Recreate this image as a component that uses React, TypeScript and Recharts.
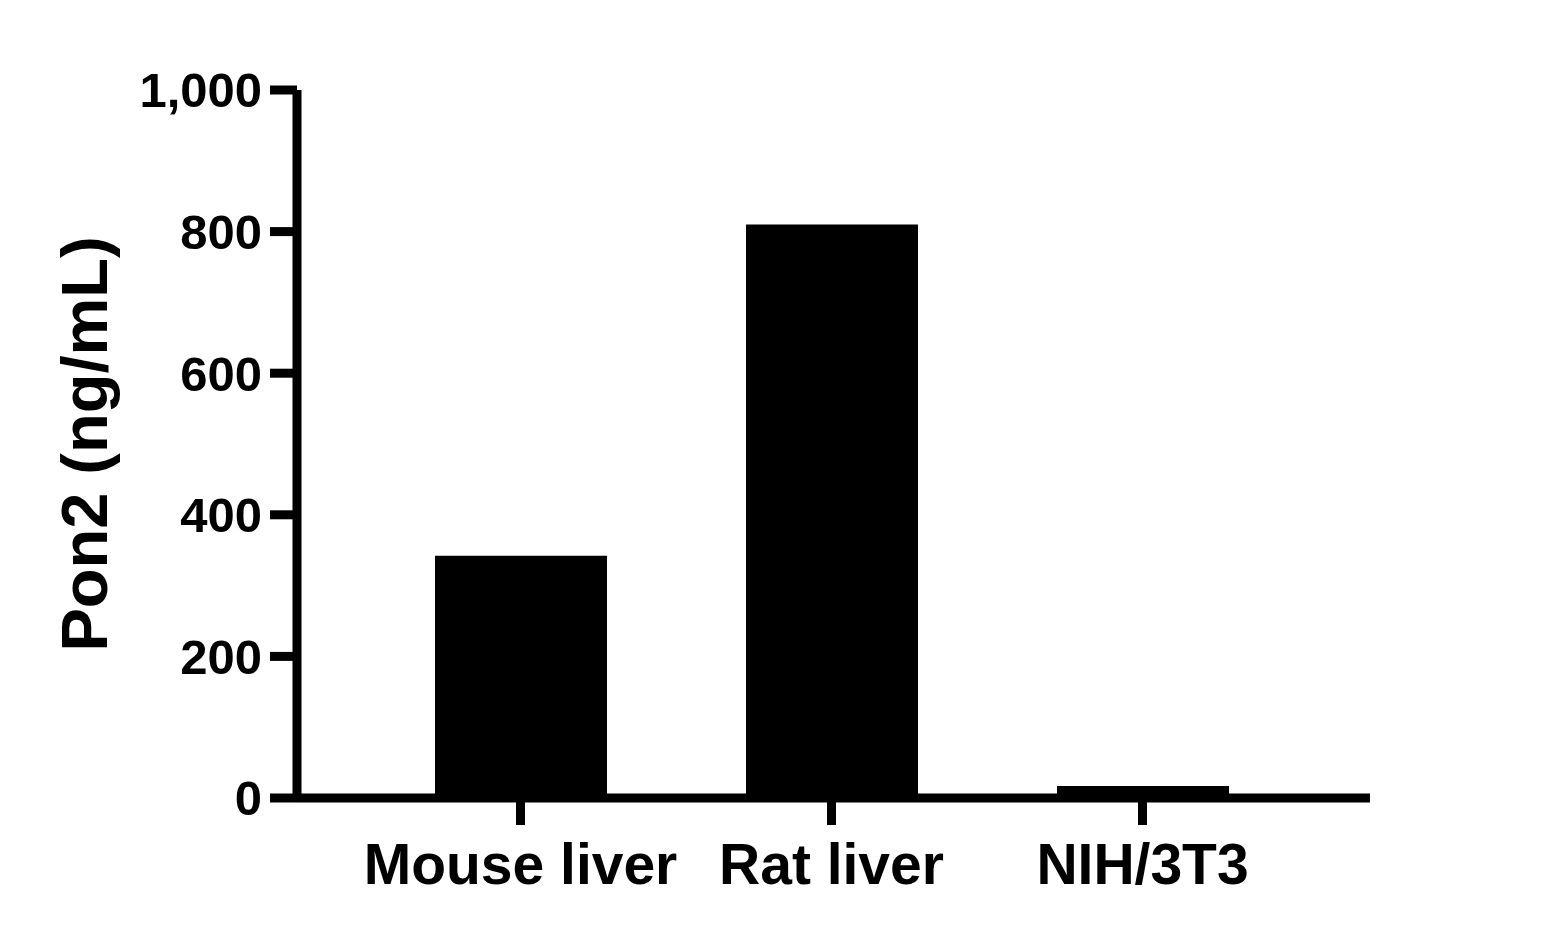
import { BarChart, Bar, XAxis, YAxis } from 'recharts'

const categories = ['Mouse liver', 'Rat liver', 'NIH/3T3']
const pon2Values = [342, 810, 17]
const yTicks = [0, 200, 400, 600, 800, 1000]

const data = categories.map((name, i) => ({ name, value: pon2Values[i] }))

const font = '"Liberation Sans", Arial, sans-serif'

function fmt(n: number) {
  return n.toLocaleString('en-US')
}

export default function App() {
  return (
    <div style={{ position: 'absolute', left: 0, top: 0, background: '#fff' }}>
      <BarChart
        width={1548}
        height={938}
        data={data}
        margin={{ top: 90, right: 178, left: 0, bottom: 0 }}
        style={{ fontFamily: font, fontWeight: 'bold' }}
      >
        <XAxis
          dataKey="name"
          height={140}
          padding={{ left: 68, right: 72 }}
          axisLine={{ stroke: '#000', strokeWidth: 9 }}
          tickLine={{ stroke: '#000', strokeWidth: 9 }}
          tickSize={27}
          tickMargin={19}
          tick={{ fill: '#000', fontSize: 57, fontWeight: 'bold', fontFamily: font }}
        />
        <YAxis
          width={297}
          domain={[0, 1000]}
          ticks={yTicks}
          interval={0}
          tickFormatter={fmt}
          axisLine={{ stroke: '#000', strokeWidth: 9 }}
          tickLine={{ stroke: '#000', strokeWidth: 9 }}
          tickSize={27}
          tickMargin={8}
          tick={{ fill: '#000', fontSize: 49, fontWeight: 'bold', fontFamily: font }}
          label={{
            value: 'Pon2 (ng/mL)',
            angle: -90,
            position: 'insideLeft',
            offset: 84,
            style: { textAnchor: 'middle', fill: '#000', fontSize: 65, fontWeight: 'bold', fontFamily: font },
          }}
        />
        <Bar dataKey="value" fill="#000" barSize={172} isAnimationActive={false} />
      </BarChart>
    </div>
  )
}
